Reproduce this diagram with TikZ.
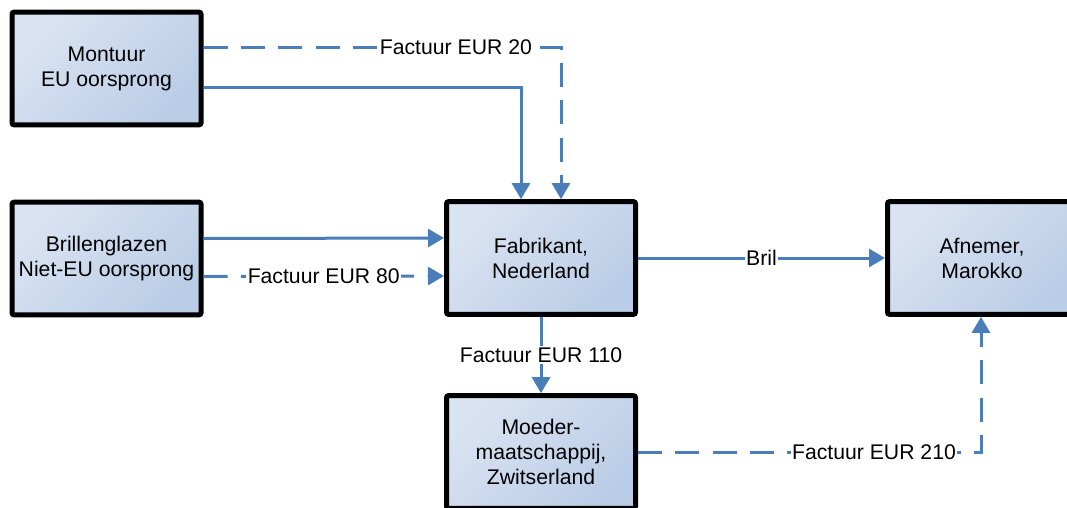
\documentclass[tikz,border=0pt]{standalone}
\usepackage{fontspec}
\setmainfont{Liberation Sans}
\usetikzlibrary{arrows.meta,calc}
\definecolor{lineblue}{HTML}{4A7EBB}
\definecolor{boxlight}{HTML}{DAE3F2}
\definecolor{boxdark}{HTML}{BACDE6}
\tikzset{
  box/.style={draw=black, line width=3.75pt, rounded corners=1.5pt,
    top color=boxlight, bottom color=boxdark, shading angle=45,
    minimum width=141.75pt, minimum height=84.5pt, align=center,
    font=\fontsize{15.9}{18.8}\selectfont, inner sep=0pt},
  conn/.style={draw=lineblue, line width=2.25pt,
    -{Triangle[length=12pt,width=13.5pt]}},
  dashconn/.style={conn, dash pattern=on 18pt off 10pt},
  lbl/.style={fill=white, inner sep=1pt, font=\fontsize{15.9}{18.8}\selectfont, text=black}
}
\begin{document}
\begin{tikzpicture}[x=0.75pt,y=-0.75pt]
\useasboundingbox (0,0) rectangle (1067,507);
\begin{scope}
\clip (0,0) rectangle (1067,507);
\node[box] (mont) at (106.5,68.5) {Montuur\\EU oorsprong};
\node[box] (bril) at (106.5,258.5) {Brillenglazen\\Niet-EU oorsprong};
\node[box] (fab) at (541,258) {Fabrikant,\\Nederland};
\node[box] (moed) at (541,452) {Moeder-\\maatschappij,\\Zwitserland};
\node[box] (afn) at (982,258) {Afnemer,\\Marokko};

\draw[conn] ($(mont.east)+(0,18.5)$) -| ($(fab.north)+(-20,0)$);
\draw[dashconn] ($(mont.east)+(0,-21.5)$) -| node[lbl,pos=0.353] (l20) {Factuur EUR 20} ($(fab.north)+(20,0)$);
\draw[conn] ($(bril.east)+(0,-20)$) -- ($(fab.west)+(0,-20)$);
\draw[dashconn] ($(bril.east)+(0,18)$) -- node[lbl] (l80) {Factuur EUR 80} ($(fab.west)+(0,18)$);
\draw[conn] (fab.east) -- node[lbl] (lbr) {Bril} (afn.west);
\draw[conn] (fab.south) -- node[lbl] (l110) {Factuur EUR 110} (moed.north);
\draw[dashconn] (moed.east) -| node[lbl,pos=0.344] (l210) {Factuur EUR 210} ($(afn.south)+(-1,0)$);
\end{scope}
\end{tikzpicture}
\end{document}
